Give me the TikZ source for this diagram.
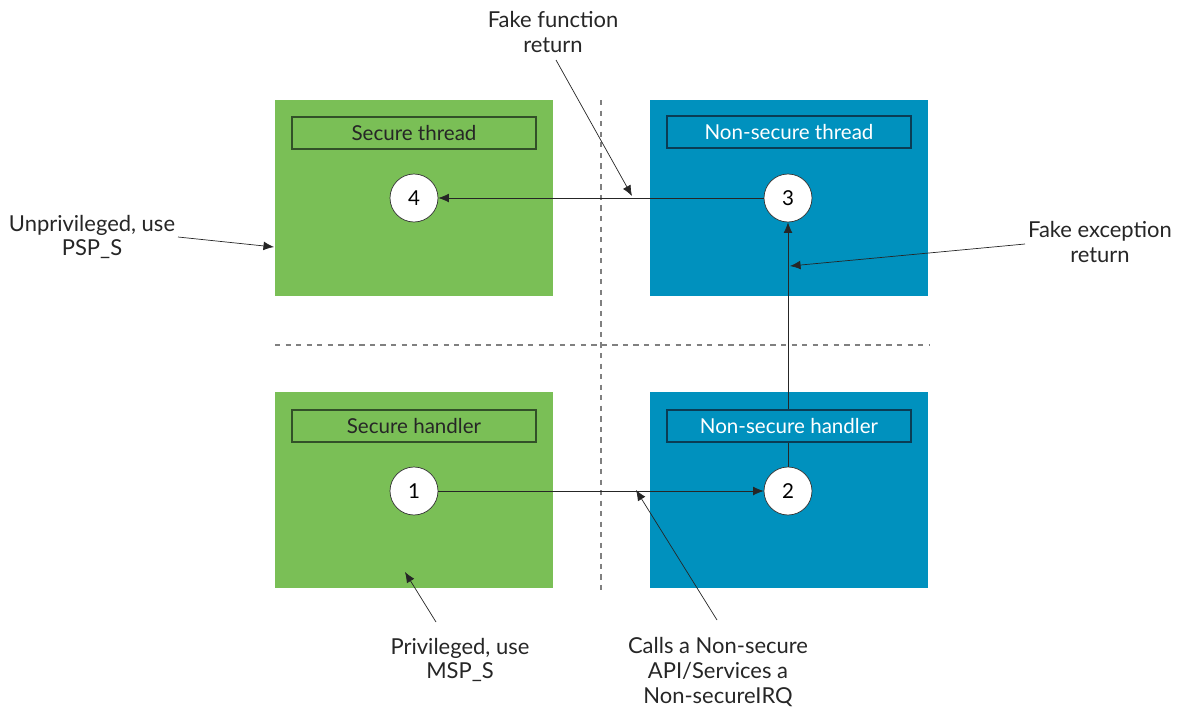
\documentclass[tikz,border=0pt]{standalone}
\usepackage{fontspec}
\setmainfont{Lato}
\usetikzlibrary{arrows.meta}

\definecolor{secgreen}{RGB}{122,191,86}
\definecolor{nsblue}{RGB}{0,145,190}
\definecolor{secedge}{RGB}{50,80,40}
\definecolor{nsedge}{RGB}{10,60,85}

\tikzset{
  secarea/.style={fill=secgreen, minimum width=5.56cm, minimum height=3.92cm},
  nsarea/.style={fill=nsblue, minimum width=5.56cm, minimum height=3.92cm},
  seclabel/.style={draw=secedge, fill=secgreen, thick, minimum width=4.88cm, minimum height=0.64cm, text=black!85},
  nslabel/.style={draw=nsedge, fill=nsblue, thick, minimum width=4.88cm, minimum height=0.64cm, text=white},
  state/.style={circle, draw=black!80, fill=white, minimum size=0.96cm, inner sep=0pt},
  flow/.style={-{Latex[length=6pt,width=5pt]}, black!85, thin},
  note/.style={align=center, text=black!85, font=\fontsize{12.5}{14}\selectfont},
  divider/.style={gray, dashed, thick}
}

\begin{document}
\begin{tikzpicture}[x=0.02cm, y=-0.02cm, font=\fontsize{11.7}{14}\selectfont]
    \useasboundingbox (0,0) rectangle (1191,707);

    % four areas
    \node[secarea] (st) at (414,198) {};
    \node[nsarea] (nt) at (789,198) {};
    \node[secarea] (sh) at (414,490) {};
    \node[nsarea] (nh) at (789,490) {};

    % borders between the states
    \coordinate (vtop) at (601,100);
    \coordinate (vbot) at (601,590);
    \coordinate (hleft) at (275,345);
    \coordinate (hright) at (929,345);
    \draw[divider] (vtop) -- (vbot);
    \draw[divider] (hleft) -- (hright);

    % steps
    \node[state] (s1) at (414,491) {1};
    \node[state] (s2) at (788,491) {2};
    \node[state] (s3) at (788,198) {3};
    \node[state] (s4) at (414,198) {4};

    \draw[flow] (s1) -- (s2);
    \draw[flow] (s2) -- (s3);
    \draw[flow] (s3) -- (s4);

    % titles
    \node[seclabel] (stl) at (414,133) {Secure thread};
    \node[nslabel] (ntl) at (789,132) {Non-secure thread};
    \node[seclabel] (shl) at (414,426) {Secure handler};
    \node[nslabel] (nhl) at (789,426) {Non-secure handler};

    % notes
    \node[note] (ffr) at (553,32) {Fake function\\return};
    \node[note] (upr) at (92,237) {Unprivileged, use\\PSP\_S};
    \node[note] (fer) at (1100,242) {Fake exception\\return};
    \node[note] (prv) at (460,660) {Privileged, use\\MSP\_S};
    \node[note] (cal) at (718,672) {Calls a Non-secure\\API/Services a\\Non-secureIRQ};

    \coordinate (ffrtip) at (632,196);
    \coordinate (uprtip) at (274,247);
    \coordinate (fertip) at (790,266);
    \coordinate (prvtip) at (405,572);
    \coordinate (caltip) at (636,490);

    \draw[flow] (556,60) -- (ffrtip);
    \draw[flow] (178,237) -- (uprtip);
    \draw[flow] (1025,244) -- (fertip);
    \draw[flow] (436,622) -- (prvtip);
    \draw[flow] (717,620) -- (caltip);
\end{tikzpicture}
\end{document}
